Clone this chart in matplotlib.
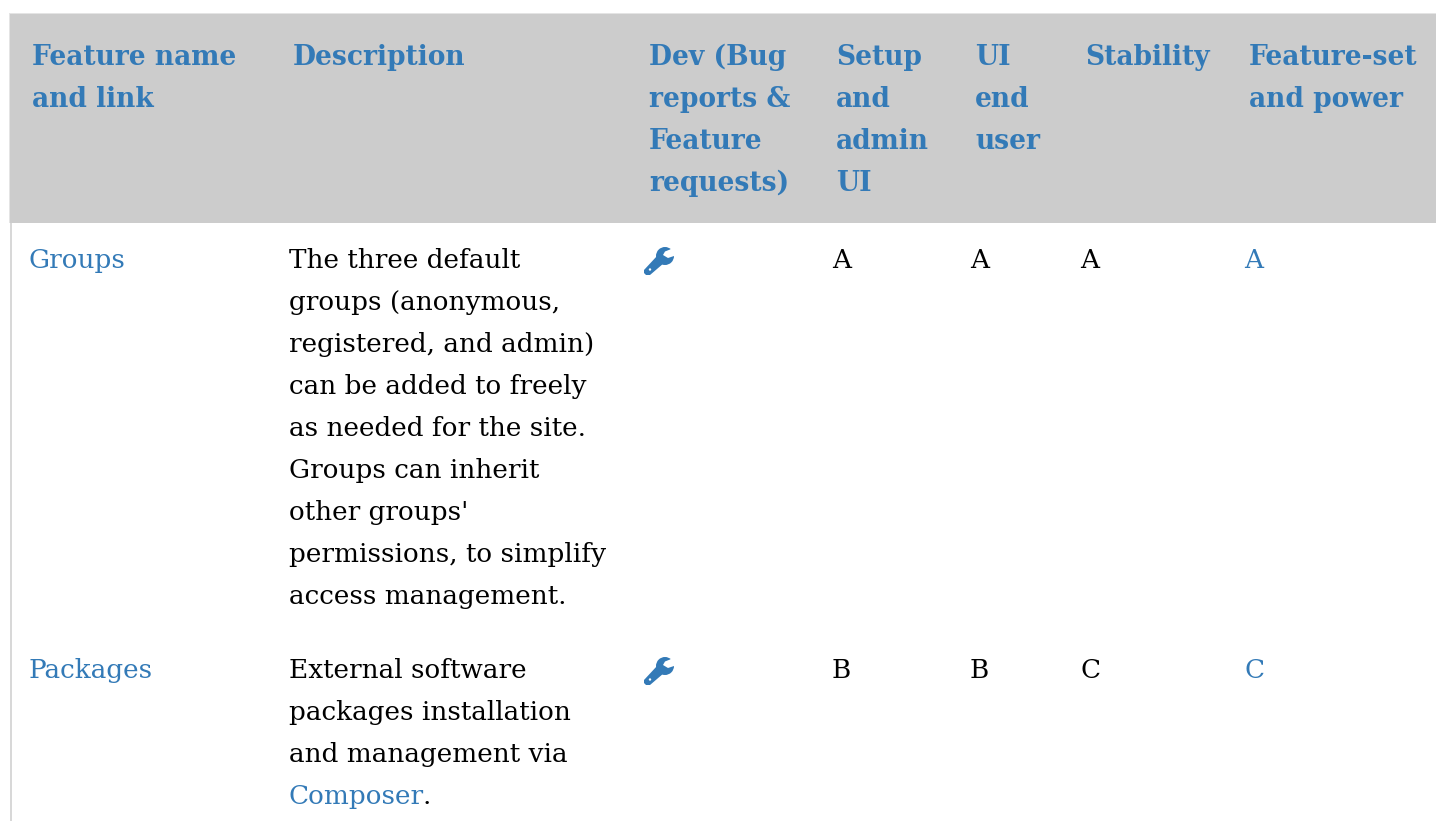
import matplotlib
matplotlib.use('Agg')
import matplotlib.pyplot as plt
from matplotlib.patches import Rectangle, Polygon, Circle

W, H = 1436, 821
link = '#337ab7'
serif = 'DejaVu Serif'

headers = ['Feature name\nand link', 'Description', 'Dev (Bug\nreports &\nFeature\nrequests)',
           'Setup\nand\nadmin\nUI', 'UI\nend\nuser', 'Stability', 'Feature-set\nand power']
header_x = [32, 293, 649, 836, 975, 1085, 1249]

row_names = ['Groups', 'Packages']
row_y = [268, 678]
descriptions = [
    ['The three default', 'groups (anonymous,', 'registered, and admin)', 'can be added to freely',
     'as needed for the site.', 'Groups can inherit', "other groups'", 'permissions, to simplify',
     'access management.'],
    ['External software', 'packages installation', 'and management via', 'Composer'],
]
grades = [['A', 'A', 'A', 'A'], ['B', 'B', 'C', 'C']]
grade_x = [832, 970, 1080, 1244]

fig = plt.figure(figsize=(W / 100, H / 100), dpi=100)
ax = fig.add_axes([0, 0, 1, 1])
ax.set_xlim(0, W)
ax.set_ylim(H, 0)
ax.axis('off')

ax.add_patch(Rectangle((9, 13), W - 9, 210, color='#e4e4e4', lw=0))
ax.add_patch(Rectangle((10, 14), W - 10, 209, color='#cccccc', lw=0))
ax.add_patch(Rectangle((10, 223), 2, H - 223, color='#d8d8d8', lw=0))

for x, h in zip(header_x, headers):
    for i, line in enumerate(h.split('\n')):
        ax.text(x, 65 + i * 42, line, color=link, family=serif, weight='bold', fontsize=19.1, va='baseline')


def wrench(x, y):
    # x, y is the centre of the spanner head
    ax.add_patch(Polygon([(x - 21, y + 14), (x - 8, y), (x - 1, y + 7), (x - 15, y + 19), (x - 19, y + 19), (x - 21, y + 17)],
                         color=link, lw=0))
    ax.add_patch(Circle((x, y), 9, color=link, lw=0))
    ax.add_patch(Polygon([(x - 2, y - 1), (x, y - 4.5), (x + 5, y - 6.5), (x + 12, y - 12), (x + 14, y), (x + 9, y),
                          (x + 3, y + 2)], color='white', lw=0))
    ax.add_patch(Circle((x - 15, y + 13.5), 1.2, color='white', lw=0))


for r, y in enumerate(row_y):
    ax.text(28, y, row_names[r], color=link, family=serif, fontsize=18.95, va='baseline')
    for i, line in enumerate(descriptions[r]):
        t = ax.text(289, y + i * 42, line, color=link if line == 'Composer' else 'black',
                    family=serif, fontsize=18.95, va='baseline')
        if line == 'Composer':
            # full stop after the link is plain black
            box = t.get_window_extent(fig.canvas.get_renderer())
            ax.text(box.x1 - 2, y + i * 42, '.', color='black', family=serif, fontsize=18.95, va='baseline')
    wrench(665, y - 12)
    for j, (x, g) in enumerate(zip(grade_x, grades[r])):
        ax.text(x, y, g, color=link if j == 3 else 'black', family=serif, fontsize=18.95, va='baseline')

fig.savefig('out.png', dpi=100)
